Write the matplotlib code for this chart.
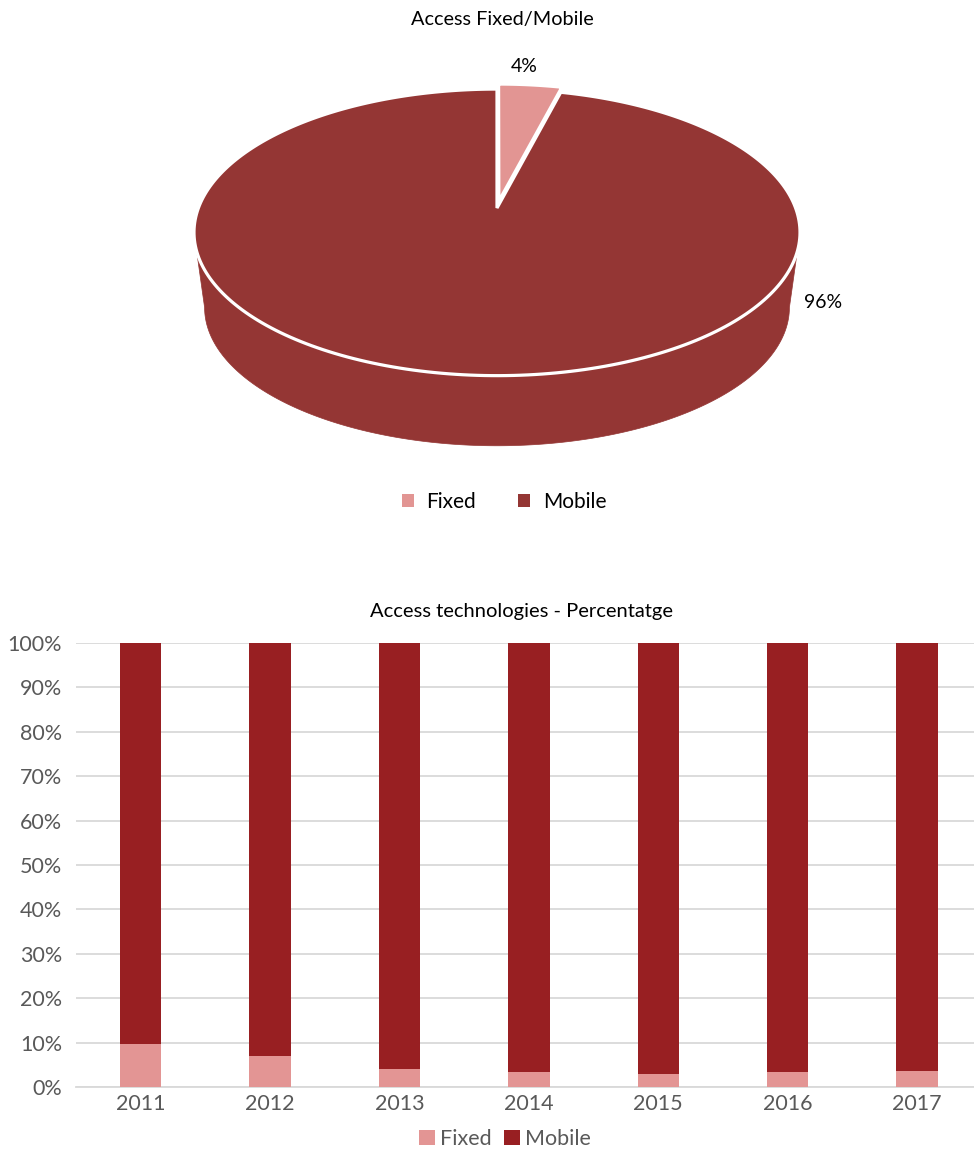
import numpy as np
import matplotlib
matplotlib.use("Agg")
import matplotlib.pyplot as plt
from matplotlib.patches import Polygon, Patch

plt.rcParams['font.family'] = ['Lato', 'DejaVu Sans']

# pie data
pie_labels = ["Fixed", "Mobile"]
pie_values = [4, 96]
pie_colors = ["#E29593", "#943634"]

# bar data
years = ["2011", "2012", "2013", "2014", "2015", "2016", "2017"]
fixed = [9.7, 7.0, 4.1, 3.3, 2.9, 3.4, 3.6]
mobile = [90.3, 93.0, 95.9, 96.7, 97.1, 96.6, 96.4]
bar_colors = ["#E39594", "#981F22"]

W, H = 974, 1149
fig = plt.figure(figsize=(W / 100, H / 100), dpi=100)

# ---- 3D pie, drawn in pixel coordinates ----
ax = fig.add_axes([0, 0, 1, 1])
ax.set_xlim(0, W)
ax.set_ylim(H, 0)
ax.axis("off")

cx, cy = 497, 208      # projected centre of top face
S, c, k = 298.6, 0.466, 0.17
depth, shrink = 76, 0.965


def proj(theta, scale=1.0, dy=0.0, off=(0.0, 0.0)):
    # theta in degrees, clockwise from the back of the pie
    t = np.radians(theta)
    u = np.sin(t) + off[0]
    v = np.cos(t) + off[1]
    x = cx + S * scale * u / (1 + k * v)
    y = cy + dy - S * scale * c * v / (1 + k * v)
    return np.column_stack([x, y])


def centre(scale=1.0, off=(0.0, 0.0)):
    u, v = off
    return np.array([[cx + S * scale * u / (1 + k * v),
                      cy - S * scale * c * v / (1 + k * v)]])


# side of the cylinder (front part)
ta = np.degrees(np.arccos(-k))
tb = 360 - ta
th = np.linspace(ta, tb, 200)
side = np.vstack([proj(th), proj(th[::-1], scale=shrink, dy=depth)])
ax.add_patch(Polygon(side, closed=True, facecolor=pie_colors[1], edgecolor=pie_colors[1], lw=0.5))

fracs = np.array(pie_values) / sum(pie_values) * 360
start = 0.0
for i, span in enumerate(fracs):
    th = np.linspace(start, start + span, 300)
    if i == 0:
        mid = np.radians(start + span / 2)
        off = (0.05 * np.sin(mid), 0.05 * np.cos(mid))
    else:
        off = (0.0, 0.0)
    pts = np.vstack([centre(off=off), proj(th, off=off)])
    ax.add_patch(Polygon(pts, closed=True, facecolor=pie_colors[i], edgecolor="white", lw=2.3, zorder=2 + i))
    start += span

ax.text(524, 67, "%d%%" % pie_values[0], ha="center", va="center", fontsize=14, color="#000000")
ax.text(823, 302, "%d%%" % pie_values[1], ha="center", va="center", fontsize=14, color="#000000")
ax.text(502, 20, "Access Fixed/Mobile", ha="center", va="center", fontsize=14.3, color="#000000")

handles = [Patch(facecolor=pie_colors[i], edgecolor="none", label=pie_labels[i]) for i in range(2)]
fig.legend(handles=handles, loc="center", bbox_to_anchor=(504 / W, 1 - 502 / H), ncol=2, frameon=False,
           fontsize=15, handlelength=0.6, handleheight=0.6, handletextpad=0.6, columnspacing=2.0,
           labelcolor="#000000")

# ---- stacked bars ----
bx = fig.add_axes([76 / W, (H - 1087) / H, (W - 76) / W, (1087 - 643) / H])
x = np.arange(len(years))
bx.bar(x, fixed, width=0.32, color=bar_colors[0], label="Fixed", zorder=3)
bx.bar(x, mobile, width=0.32, bottom=fixed, color=bar_colors[1], label="Mobile", zorder=3)
bx.set_xlim(-0.5, 6.44)
bx.set_ylim(0, 100)
bx.set_yticks(np.arange(0, 101, 10))
bx.set_yticklabels(["%d%%" % v for v in range(0, 101, 10)])
bx.set_xticks(x)
bx.set_xticklabels(years)
bx.tick_params(length=0, labelsize=15.5, colors="#595959", pad=10)
bx.tick_params(axis="x", pad=5)
bx.grid(axis="y", color="#D9D9D9", lw=1.3, zorder=0)
for s in ["top", "right", "left"]:
    bx.spines[s].set_visible(False)
bx.spines["bottom"].set_color("#D9D9D9")
bx.spines["bottom"].set_linewidth(1.3)
fig.text(522 / W, 1 - 612 / H, "Access technologies - Percentatge", ha="center", va="center",
         fontsize=14.5, color="#000000")

bh = [Patch(facecolor=bar_colors[0], label="Fixed"), Patch(facecolor=bar_colors[1], label="Mobile")]
fig.legend(handles=bh, loc="center", bbox_to_anchor=(505 / W, 1 - 1139 / H), ncol=2, frameon=False,
           fontsize=15.5, handlelength=0.75, handleheight=0.75, handletextpad=0.2, columnspacing=0.6,
           labelcolor="#595959")

fig.savefig("out.png", dpi=100)
